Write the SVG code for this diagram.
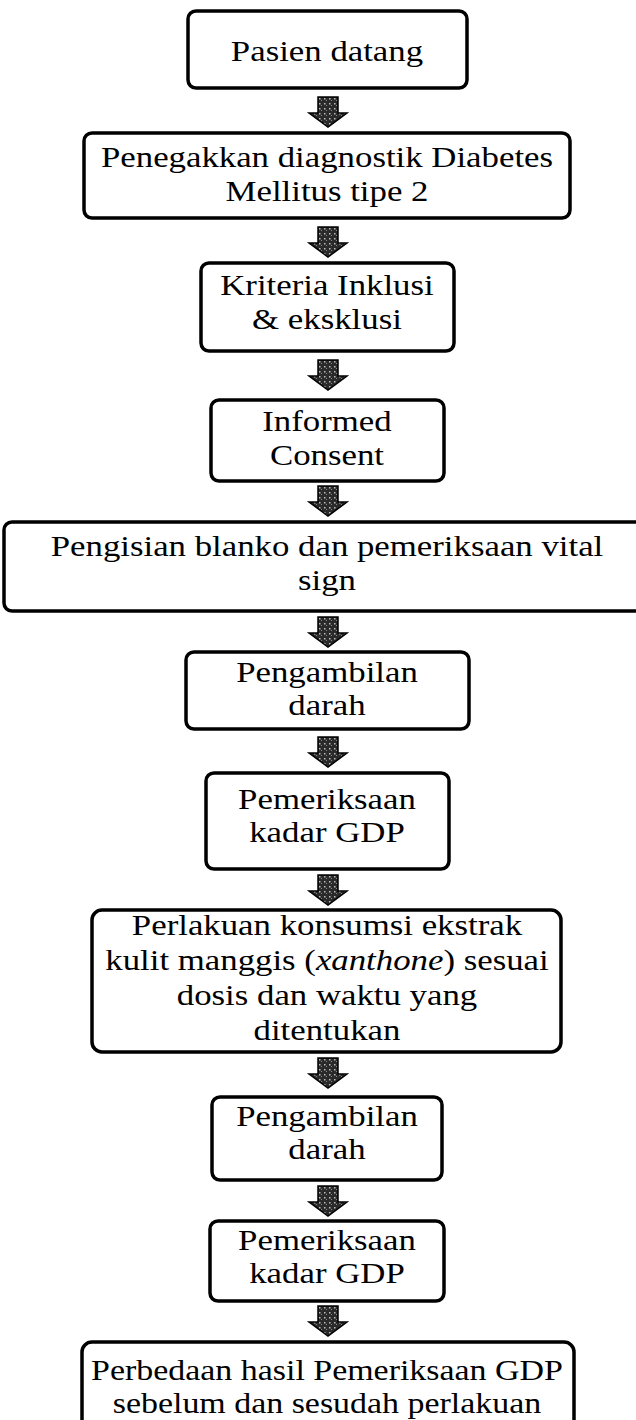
<svg xmlns="http://www.w3.org/2000/svg" xmlns:xlink="http://www.w3.org/1999/xlink" width="636" height="1420" viewBox="0 0 636 1420">
<style>
.box{fill:#fff;stroke:#000;stroke-width:3.5}
.t{font-family:"Liberation Serif","Times New Roman",serif;font-size:29px;fill:#000;text-anchor:middle}
.arrow{fill:url(#speck);stroke:#000;stroke-width:1.5;stroke-linejoin:miter}
</style>
<defs>
<pattern id="speck" width="5" height="5" patternUnits="userSpaceOnUse">
<rect width="5" height="5" fill="#2a2a2a"/>
<rect x="1" y="1" width="1.5" height="1.5" fill="#bbb"/>
<rect x="3" y="3" width="1" height="1" fill="#888"/>
</pattern>
<path id="arr" class="arrow" d="M-10,0 H10 V16 H19 L0,30 L-19,16 H-10 Z"/>
</defs>
<rect width="636" height="1420" fill="#fff"/>
<g id="connectors">
<use xlink:href="#arr" x="328" y="97"/>
<use xlink:href="#arr" x="328" y="227"/>
<use xlink:href="#arr" x="328" y="360"/>
<use xlink:href="#arr" x="328" y="486"/>
<use xlink:href="#arr" x="328" y="617"/>
<use xlink:href="#arr" x="328" y="737"/>
<use xlink:href="#arr" x="328" y="875"/>
<use xlink:href="#arr" x="328" y="1058"/>
<use xlink:href="#arr" x="328" y="1186"/>
<use xlink:href="#arr" x="328" y="1306"/>
</g>
<g id="n1"><rect class="box" x="188" y="11" width="279" height="77" rx="8"/><g transform="matrix(1.2 0 0 1 -65.4 0)"><text class="t" x="327" y="61">Pasien datang</text></g></g>
<g id="n2"><rect class="box" x="84" y="133" width="486" height="85" rx="8"/><g transform="matrix(1.2 0 0 1 -65.4 0)"><text class="t" x="327" y="167">Penegakkan diagnostik Diabetes</text><text class="t" x="327" y="201">Mellitus tipe 2</text></g></g>
<g id="n3"><rect class="box" x="201" y="263" width="253" height="88" rx="8"/><g transform="matrix(1.2 0 0 1 -65.4 0)"><text class="t" x="327" y="295">Kriteria Inklusi</text><text class="t" x="327" y="329">&amp; eksklusi</text></g></g>
<g id="n4"><rect class="box" x="211" y="400" width="233" height="81" rx="8"/><g transform="matrix(1.2 0 0 1 -65.4 0)"><text class="t" x="327" y="431">Informed</text><text class="t" x="327" y="465">Consent</text></g></g>
<g id="n5"><rect class="box" x="4" y="522" width="660" height="89" rx="8"/><g transform="matrix(1.2 0 0 1 -65.4 0)"><text class="t" x="327" y="556">Pengisian blanko dan pemeriksaan vital</text><text class="t" x="327" y="590">sign</text></g></g>
<g id="n6"><rect class="box" x="186" y="652" width="283" height="77" rx="8"/><g transform="matrix(1.2 0 0 1 -65.4 0)"><text class="t" x="327" y="682">Pengambilan</text><text class="t" x="327" y="715">darah</text></g></g>
<g id="n7"><rect class="box" x="206" y="773" width="243" height="96" rx="8"/><g transform="matrix(1.2 0 0 1 -65.4 0)"><text class="t" x="327" y="809">Pemeriksaan</text><text class="t" x="327" y="842">kadar GDP</text></g></g>
<g id="n8"><rect class="box" x="92" y="910" width="469" height="142" rx="10"/><g transform="matrix(1.2 0 0 1 -65.4 0)"><text class="t" x="327" y="935">Perlakuan konsumsi ekstrak</text><text class="t" x="327" y="970">kulit manggis (<tspan font-style="italic">xanthone</tspan>) sesuai</text><text class="t" x="327" y="1005">dosis dan waktu yang</text><text class="t" x="327" y="1040">ditentukan</text></g></g>
<g id="n9"><rect class="box" x="212" y="1097" width="230" height="83" rx="8"/><g transform="matrix(1.2 0 0 1 -65.4 0)"><text class="t" x="327" y="1126">Pengambilan</text><text class="t" x="327" y="1159">darah</text></g></g>
<g id="n10"><rect class="box" x="210" y="1221" width="234" height="80" rx="8"/><g transform="matrix(1.2 0 0 1 -65.4 0)"><text class="t" x="327" y="1250">Pemeriksaan</text><text class="t" x="327" y="1283">kadar GDP</text></g></g>
<g id="n11"><rect class="box" x="82" y="1342" width="492" height="110" rx="10"/><g transform="matrix(1.17 0 0 1 -55.6 0)"><text class="t" x="327" y="1380">Perbedaan hasil Pemeriksaan GDP</text><text class="t" x="327" y="1413">sebelum dan sesudah perlakuan</text></g></g>
</svg>
